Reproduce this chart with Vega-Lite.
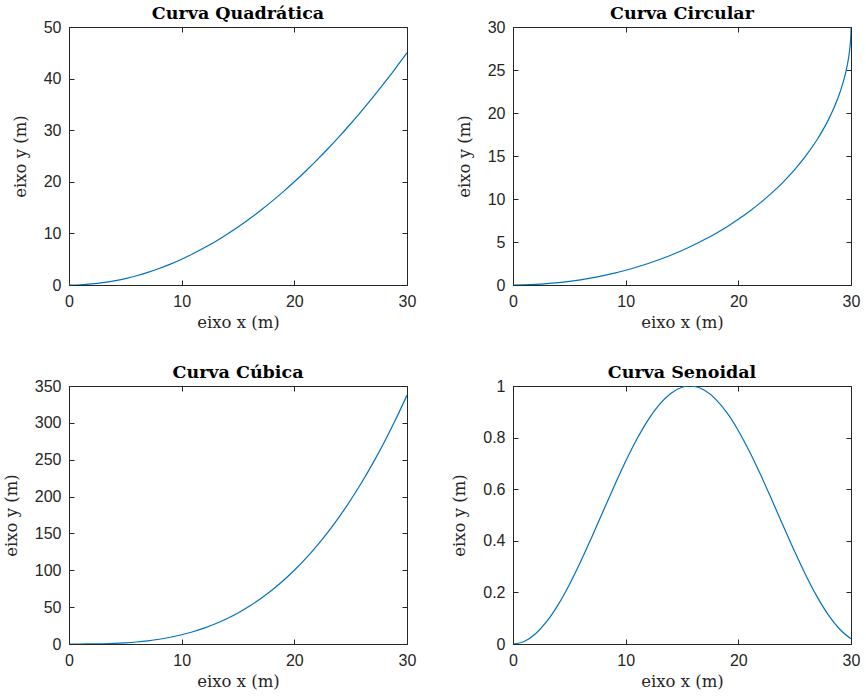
{
  "$schema": "https://vega.github.io/schema/vega-lite/v6.json",
  "padding": {"left": 2, "top": 4, "right": 10, "bottom": 4},
  "background": "white",
  "columns": 2,
  "bounds": "flush",
  "spacing": {"column": 106, "row": 101},
  "datasets": {
    "quad": [
      {"x": 0, "y": 0}, {"x": 1, "y": 0.05}, {"x": 2, "y": 0.2}, {"x": 3, "y": 0.45}, {"x": 4, "y": 0.8}, {"x": 5, "y": 1.25}, {"x": 6, "y": 1.8}, {"x": 7, "y": 2.45}, {"x": 8, "y": 3.2}, {"x": 9, "y": 4.05}, {"x": 10, "y": 5}, {"x": 11, "y": 6.05}, {"x": 12, "y": 7.2}, {"x": 13, "y": 8.45}, {"x": 14, "y": 9.8}, {"x": 15, "y": 11.25}, {"x": 16, "y": 12.8}, {"x": 17, "y": 14.45}, {"x": 18, "y": 16.2}, {"x": 19, "y": 18.05}, {"x": 20, "y": 20}, {"x": 21, "y": 22.05}, {"x": 22, "y": 24.2}, {"x": 23, "y": 26.45}, {"x": 24, "y": 28.8}, {"x": 25, "y": 31.25}, {"x": 26, "y": 33.8}, {"x": 27, "y": 36.45}, {"x": 28, "y": 39.2}, {"x": 29, "y": 42.05}, {"x": 30, "y": 45}
    ],
    "circ": [
      {"x": 0, "y": 0}, {"x": 1, "y": 0.0167}, {"x": 2, "y": 0.0667}, {"x": 3, "y": 0.1504}, {"x": 4, "y": 0.2679}, {"x": 5, "y": 0.4196}, {"x": 6, "y": 0.6061}, {"x": 7, "y": 0.8281}, {"x": 8, "y": 1.0863}, {"x": 9, "y": 1.3818}, {"x": 10, "y": 1.7157}, {"x": 11, "y": 2.0894}, {"x": 12, "y": 2.5045}, {"x": 13, "y": 2.963}, {"x": 14, "y": 3.467}, {"x": 15, "y": 4.0192}, {"x": 16, "y": 4.6228}, {"x": 17, "y": 5.2816}, {"x": 18, "y": 6}, {"x": 19, "y": 6.7836}, {"x": 20, "y": 7.6393}, {"x": 21, "y": 8.5757}, {"x": 22, "y": 9.6039}, {"x": 23, "y": 10.7386}, {"x": 24, "y": 12}, {"x": 25, "y": 13.4169}, {"x": 26, "y": 15.0334}, {"x": 27, "y": 16.9233}, {"x": 28, "y": 19.2297}, {"x": 28.5, "y": 20.6325}, {"x": 29, "y": 22.3189}, {"x": 29.5, "y": 24.5456}, {"x": 29.8, "y": 26.5417}, {"x": 29.9, "y": 27.5526}, {"x": 29.95, "y": 28.2687}, {"x": 29.99, "y": 29.2254}, {"x": 30, "y": 30}
    ],
    "cub": [
      {"x": 0, "y": 0}, {"x": 1, "y": 0.0125}, {"x": 2, "y": 0.1}, {"x": 3, "y": 0.3375}, {"x": 4, "y": 0.8}, {"x": 5, "y": 1.5625}, {"x": 6, "y": 2.7}, {"x": 7, "y": 4.2875}, {"x": 8, "y": 6.4}, {"x": 9, "y": 9.1125}, {"x": 10, "y": 12.5}, {"x": 11, "y": 16.6375}, {"x": 12, "y": 21.6}, {"x": 13, "y": 27.4625}, {"x": 14, "y": 34.3}, {"x": 15, "y": 42.1875}, {"x": 16, "y": 51.2}, {"x": 17, "y": 61.4125}, {"x": 18, "y": 72.9}, {"x": 19, "y": 85.7375}, {"x": 20, "y": 100}, {"x": 21, "y": 115.7625}, {"x": 22, "y": 133.1}, {"x": 23, "y": 152.0875}, {"x": 24, "y": 172.8}, {"x": 25, "y": 195.3125}, {"x": 26, "y": 219.7}, {"x": 27, "y": 246.0375}, {"x": 28, "y": 274.4}, {"x": 29, "y": 304.8625}, {"x": 30, "y": 337.5}
    ],
    "sen": [
      {"x": 0, "y": 0}, {"x": 1, "y": 0.00997}, {"x": 2, "y": 0.03947}, {"x": 3, "y": 0.08733}, {"x": 4, "y": 0.15164}, {"x": 5, "y": 0.22985}, {"x": 6, "y": 0.31882}, {"x": 7, "y": 0.41502}, {"x": 8, "y": 0.5146}, {"x": 9, "y": 0.6136}, {"x": 10, "y": 0.70807}, {"x": 11, "y": 0.79425}, {"x": 12, "y": 0.8687}, {"x": 13, "y": 0.92845}, {"x": 14, "y": 0.97111}, {"x": 15, "y": 0.99499}, {"x": 15.7, "y": 1}, {"x": 16, "y": 0.99915}, {"x": 17, "y": 0.98339}, {"x": 18, "y": 0.94838}, {"x": 19, "y": 0.89548}, {"x": 20, "y": 0.82682}, {"x": 21, "y": 0.74513}, {"x": 22, "y": 0.65368}, {"x": 23, "y": 0.55609}, {"x": 24, "y": 0.45625}, {"x": 25, "y": 0.35817}, {"x": 26, "y": 0.26574}, {"x": 27, "y": 0.18266}, {"x": 28, "y": 0.11222}, {"x": 29, "y": 0.05724}, {"x": 30, "y": 0.01991}
    ]
  },
  "concat": [
    {
      "title": "Curva Quadrática",
      "width": 338, "height": 258,
      "data": {"name": "quad"},
      "layer": [
        {"mark": {"type": "line", "color": "#0072BD", "strokeWidth": 1.2, "interpolate": "monotone", "clip": true},
         "encoding": {
           "x": {"field": "x", "type": "quantitative", "scale": {"domain": [0, 30], "nice": false}, "axis": {"values": [0, 10, 20, 30], "title": "eixo x (m)"}},
           "y": {"field": "y", "type": "quantitative", "scale": {"domain": [0, 50], "nice": false}, "axis": {"values": [0, 10, 20, 30, 40, 50], "title": "eixo y (m)"}}}},
        {"mark": {"type": "line", "opacity": 0},
         "encoding": {
           "x": {"field": "x", "type": "quantitative", "scale": {"domain": [0, 30], "nice": false}, "axis": {"orient": "top", "values": [0, 10, 20, 30], "labels": false, "title": null, "minExtent": 0, "maxExtent": 0, "labelPadding": 0}},
           "y": {"field": "y", "type": "quantitative", "scale": {"domain": [0, 50], "nice": false}, "axis": {"orient": "right", "values": [0, 10, 20, 30, 40, 50], "labels": false, "title": null, "minExtent": 0, "maxExtent": 0, "labelPadding": 0}}}}
      ],
      "resolve": {"axis": {"x": "independent", "y": "independent"}}
    },
    {
      "title": "Curva Circular",
      "width": 338, "height": 258,
      "data": {"name": "circ"},
      "layer": [
        {"mark": {"type": "line", "color": "#0072BD", "strokeWidth": 1.2, "interpolate": "monotone", "clip": true},
         "encoding": {
           "x": {"field": "x", "type": "quantitative", "scale": {"domain": [0, 30], "nice": false}, "axis": {"values": [0, 10, 20, 30], "title": "eixo x (m)"}},
           "y": {"field": "y", "type": "quantitative", "scale": {"domain": [0, 30], "nice": false}, "axis": {"values": [0, 5, 10, 15, 20, 25, 30], "title": "eixo y (m)"}}}},
        {"mark": {"type": "line", "opacity": 0},
         "encoding": {
           "x": {"field": "x", "type": "quantitative", "scale": {"domain": [0, 30], "nice": false}, "axis": {"orient": "top", "values": [0, 10, 20, 30], "labels": false, "title": null, "minExtent": 0, "maxExtent": 0, "labelPadding": 0}},
           "y": {"field": "y", "type": "quantitative", "scale": {"domain": [0, 30], "nice": false}, "axis": {"orient": "right", "values": [0, 5, 10, 15, 20, 25, 30], "labels": false, "title": null, "minExtent": 0, "maxExtent": 0, "labelPadding": 0}}}}
      ],
      "resolve": {"axis": {"x": "independent", "y": "independent"}}
    },
    {
      "title": "Curva Cúbica",
      "width": 338, "height": 258,
      "data": {"name": "cub"},
      "layer": [
        {"mark": {"type": "line", "color": "#0072BD", "strokeWidth": 1.2, "interpolate": "monotone", "clip": true},
         "encoding": {
           "x": {"field": "x", "type": "quantitative", "scale": {"domain": [0, 30], "nice": false}, "axis": {"values": [0, 10, 20, 30], "title": "eixo x (m)"}},
           "y": {"field": "y", "type": "quantitative", "scale": {"domain": [0, 350], "nice": false}, "axis": {"values": [0, 50, 100, 150, 200, 250, 300, 350], "title": "eixo y (m)"}}}},
        {"mark": {"type": "line", "opacity": 0},
         "encoding": {
           "x": {"field": "x", "type": "quantitative", "scale": {"domain": [0, 30], "nice": false}, "axis": {"orient": "top", "values": [0, 10, 20, 30], "labels": false, "title": null, "minExtent": 0, "maxExtent": 0, "labelPadding": 0}},
           "y": {"field": "y", "type": "quantitative", "scale": {"domain": [0, 350], "nice": false}, "axis": {"orient": "right", "values": [0, 50, 100, 150, 200, 250, 300, 350], "labels": false, "title": null, "minExtent": 0, "maxExtent": 0, "labelPadding": 0}}}}
      ],
      "resolve": {"axis": {"x": "independent", "y": "independent"}}
    },
    {
      "title": "Curva Senoidal",
      "width": 338, "height": 258,
      "data": {"name": "sen"},
      "layer": [
        {"mark": {"type": "line", "color": "#0072BD", "strokeWidth": 1.2, "interpolate": "monotone", "clip": true},
         "encoding": {
           "x": {"field": "x", "type": "quantitative", "scale": {"domain": [0, 30], "nice": false}, "axis": {"values": [0, 10, 20, 30], "title": "eixo x (m)"}},
           "y": {"field": "y", "type": "quantitative", "scale": {"domain": [0, 1], "nice": false}, "axis": {"values": [0, 0.2, 0.4, 0.6, 0.8, 1], "format": "~g", "title": "eixo y (m)"}}}},
        {"mark": {"type": "line", "opacity": 0},
         "encoding": {
           "x": {"field": "x", "type": "quantitative", "scale": {"domain": [0, 30], "nice": false}, "axis": {"orient": "top", "values": [0, 10, 20, 30], "labels": false, "title": null, "minExtent": 0, "maxExtent": 0, "labelPadding": 0}},
           "y": {"field": "y", "type": "quantitative", "scale": {"domain": [0, 1], "nice": false}, "axis": {"orient": "right", "values": [0, 0.2, 0.4, 0.6, 0.8, 1], "labels": false, "title": null, "minExtent": 0, "maxExtent": 0, "labelPadding": 0}}}}
      ],
      "resolve": {"axis": {"x": "independent", "y": "independent"}}
    }
  ],
  "config": {
    "view": {"stroke": "#262626", "strokeWidth": 1},
    "axis": {
      "grid": false,
      "domainColor": "#262626",
      "tickColor": "#262626",
      "tickSize": -5,
      "labelPadding": 13,
      "labelFlush": false,
      "labelOverlap": false,
      "labelFont": "Liberation Sans",
      "labelFontSize": 16,
      "labelColor": "#262626",
      "titleFont": "DejaVu Serif",
      "titleFontSize": 16.5,
      "titleFontWeight": "normal",
      "titleColor": "#262626",
      "titlePadding": 5
    },
    "axisY": {"titlePadding": 15},
    "title": {"font": "DejaVu Serif", "fontSize": 17.5, "fontWeight": "bold", "color": "#000000", "offset": -3, "anchor": "middle"}
  }
}
